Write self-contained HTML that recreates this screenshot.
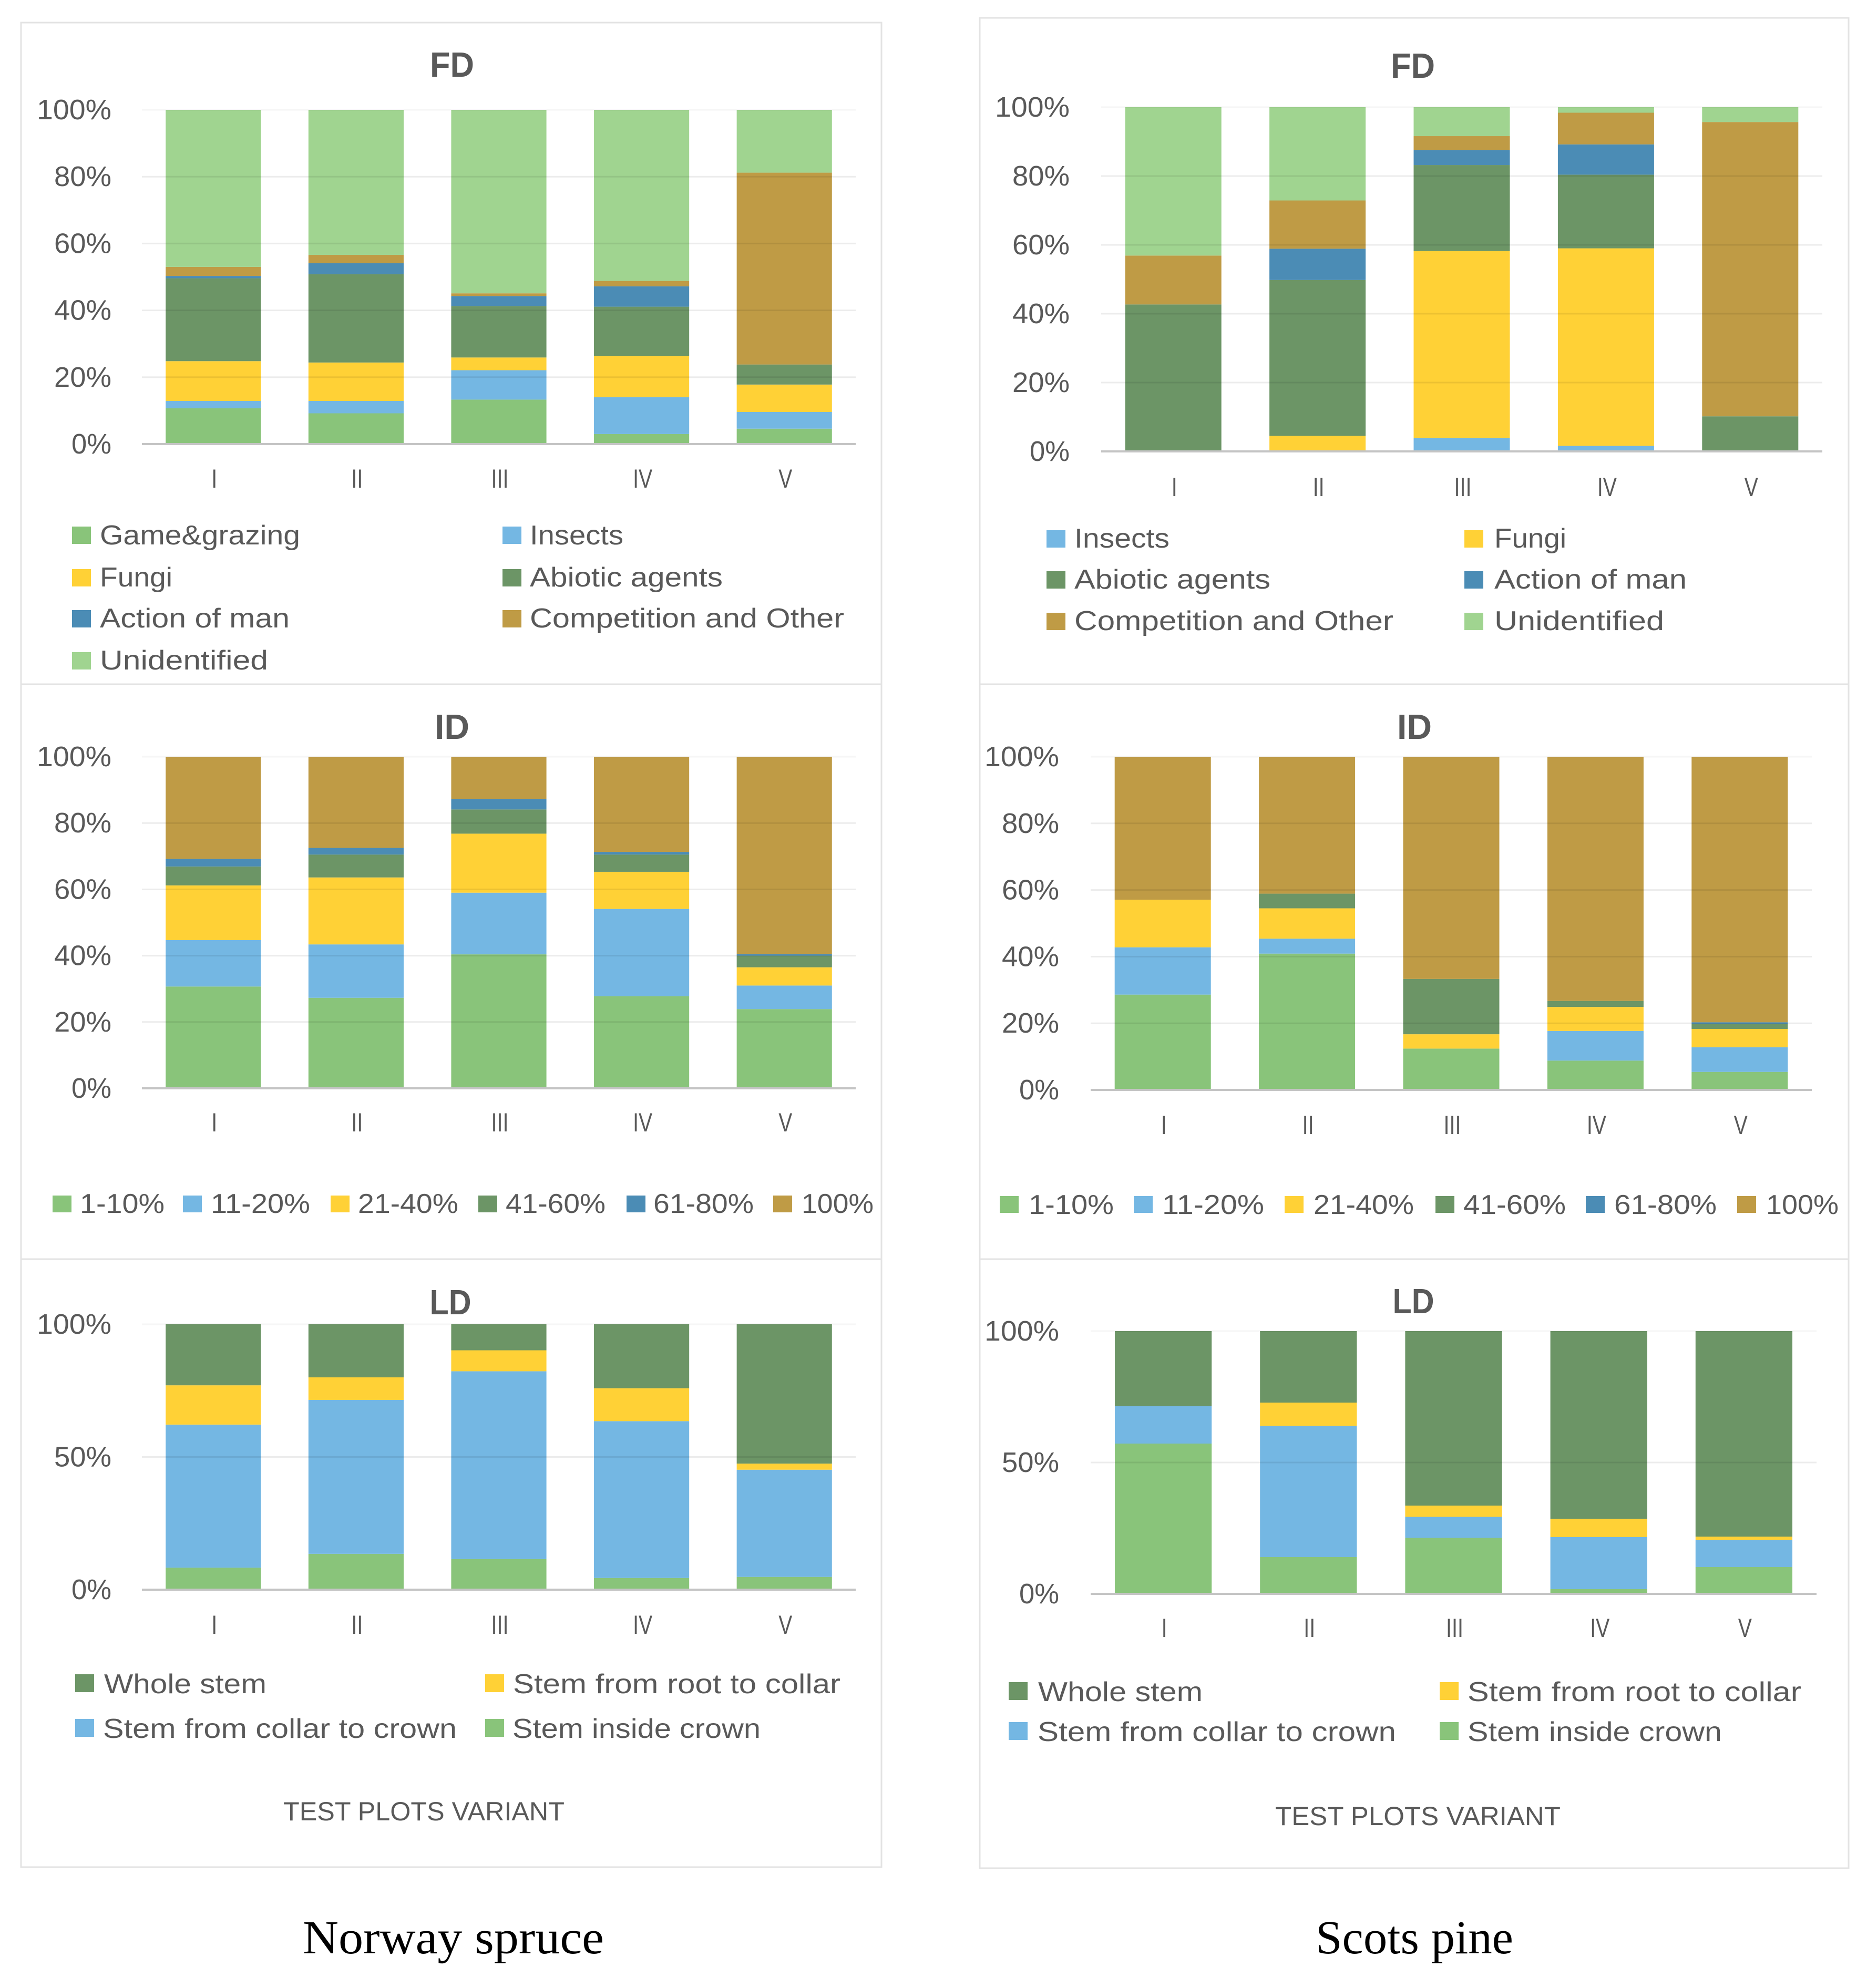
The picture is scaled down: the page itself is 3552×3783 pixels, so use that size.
<!DOCTYPE html>
<html lang="en">
<head>
<meta charset="utf-8">
<title>Damage causes by test plot variant</title>
<style>
html,body{margin:0;padding:0;background:#fff;}
svg{display:block;}
text{font-family:"Liberation Sans",sans-serif;fill:#595959;}
.leg{font-size:52px;}
.axt{font-size:50px;}
.cap{font-family:"Liberation Serif",serif;font-size:90px;fill:#000;}
.ttl{font-size:67px;font-weight:bold;text-anchor:middle;}
</style>
</head>
<body>
<svg id="figure" xmlns="http://www.w3.org/2000/svg" width="3552" height="3783" viewBox="0 0 3552 3783">
  <rect x="0" y="0" width="3552" height="3783" fill="#fff"/>

  <g fill="none" stroke="#e3e3e3" stroke-width="3">
    <rect x="40" y="43" width="1637" height="3510"/>
    <line x1="40" x2="1677" y1="1302" y2="1302"/>
    <line x1="40" x2="1677" y1="2396" y2="2396"/>
    <rect x="1864" y="34" width="1653" height="3521"/>
    <line x1="1864" x2="3517" y1="1302" y2="1302"/>
    <line x1="1864" x2="3517" y1="2396" y2="2396"/>
  </g>

  <g id="charts"></g>

  <!-- Titles -->
  <text class="ttl" x="860" y="146" textLength="84" lengthAdjust="spacingAndGlyphs">FD</text>
  <text class="ttl" x="2688" y="148" textLength="84" lengthAdjust="spacingAndGlyphs">FD</text>
  <text class="ttl" x="860" y="1406" textLength="66" lengthAdjust="spacingAndGlyphs">ID</text>
  <text class="ttl" x="2691" y="1406" textLength="66" lengthAdjust="spacingAndGlyphs">ID</text>
  <text class="ttl" x="857" y="2501" textLength="79" lengthAdjust="spacingAndGlyphs">LD</text>
  <text class="ttl" x="2689" y="2499" textLength="79" lengthAdjust="spacingAndGlyphs">LD</text>

  <!-- Spruce FD legend -->
  <g>
    <rect x="137" y="1002" width="36" height="33" fill="#89c47a"/>
    <text class="leg" x="190" y="1036" textLength="381" lengthAdjust="spacingAndGlyphs">Game&amp;grazing</text>
    <rect x="956" y="1002" width="36" height="33" fill="#74b7e3"/>
    <text class="leg" x="1008" y="1036" textLength="178" lengthAdjust="spacingAndGlyphs">Insects</text>
    <rect x="137" y="1083" width="36" height="33" fill="#ffd136"/>
    <text class="leg" x="190" y="1116" textLength="138" lengthAdjust="spacingAndGlyphs">Fungi</text>
    <rect x="956" y="1083" width="36" height="33" fill="#6c9566"/>
    <text class="leg" x="1008" y="1116" textLength="367" lengthAdjust="spacingAndGlyphs">Abiotic agents</text>
    <rect x="137" y="1161" width="36" height="33" fill="#4b8cb5"/>
    <text class="leg" x="190" y="1194" textLength="361" lengthAdjust="spacingAndGlyphs">Action of man</text>
    <rect x="956" y="1161" width="36" height="33" fill="#bf9b45"/>
    <text class="leg" x="1008" y="1194" textLength="598" lengthAdjust="spacingAndGlyphs">Competition and Other</text>
    <rect x="137" y="1241" width="36" height="33" fill="#a0d490"/>
    <text class="leg" x="190" y="1274" textLength="320" lengthAdjust="spacingAndGlyphs">Unidentified</text>
  </g>

  <!-- Pine FD legend -->
  <g>
    <rect x="1991" y="1009" width="36" height="33" fill="#74b7e3"/>
    <text class="leg" x="2044" y="1042" textLength="181" lengthAdjust="spacingAndGlyphs">Insects</text>
    <rect x="2786" y="1009" width="36" height="33" fill="#ffd136"/>
    <text class="leg" x="2843" y="1042" textLength="137" lengthAdjust="spacingAndGlyphs">Fungi</text>
    <rect x="1991" y="1087" width="36" height="33" fill="#6c9566"/>
    <text class="leg" x="2044" y="1120" textLength="373" lengthAdjust="spacingAndGlyphs">Abiotic agents</text>
    <rect x="2786" y="1087" width="36" height="33" fill="#4b8cb5"/>
    <text class="leg" x="2843" y="1120" textLength="366" lengthAdjust="spacingAndGlyphs">Action of man</text>
    <rect x="1991" y="1166" width="36" height="33" fill="#bf9b45"/>
    <text class="leg" x="2044" y="1199" textLength="607" lengthAdjust="spacingAndGlyphs">Competition and Other</text>
    <rect x="2786" y="1166" width="36" height="33" fill="#a0d490"/>
    <text class="leg" x="2843" y="1199" textLength="323" lengthAdjust="spacingAndGlyphs">Unidentified</text>
  </g>

  <!-- Spruce ID legend -->
  <g>
    <rect x="100" y="2275" width="36" height="32" fill="#89c47a"/>
    <text class="leg" x="152" y="2308" textLength="161" lengthAdjust="spacingAndGlyphs">1-10%</text>
    <rect x="348" y="2275" width="36" height="32" fill="#74b7e3"/>
    <text class="leg" x="401" y="2308" textLength="189" lengthAdjust="spacingAndGlyphs">11-20%</text>
    <rect x="629" y="2275" width="36" height="32" fill="#ffd136"/>
    <text class="leg" x="681" y="2308" textLength="191" lengthAdjust="spacingAndGlyphs">21-40%</text>
    <rect x="910" y="2275" width="36" height="32" fill="#6c9566"/>
    <text class="leg" x="962" y="2308" textLength="190" lengthAdjust="spacingAndGlyphs">41-60%</text>
    <rect x="1192" y="2275" width="36" height="32" fill="#4b8cb5"/>
    <text class="leg" x="1243" y="2308" textLength="191" lengthAdjust="spacingAndGlyphs">61-80%</text>
    <rect x="1471" y="2275" width="36" height="32" fill="#bf9b45"/>
    <text class="leg" x="1525" y="2308" textLength="137" lengthAdjust="spacingAndGlyphs">100%</text>
  </g>

  <!-- Pine ID legend -->
  <g>
    <rect x="1902" y="2276" width="36" height="32" fill="#89c47a"/>
    <text class="leg" x="1957" y="2310" textLength="162" lengthAdjust="spacingAndGlyphs">1-10%</text>
    <rect x="2157" y="2276" width="36" height="32" fill="#74b7e3"/>
    <text class="leg" x="2211" y="2310" textLength="194" lengthAdjust="spacingAndGlyphs">11-20%</text>
    <rect x="2444" y="2276" width="36" height="32" fill="#ffd136"/>
    <text class="leg" x="2499" y="2310" textLength="191" lengthAdjust="spacingAndGlyphs">21-40%</text>
    <rect x="2731" y="2276" width="36" height="32" fill="#6c9566"/>
    <text class="leg" x="2784" y="2310" textLength="195" lengthAdjust="spacingAndGlyphs">41-60%</text>
    <rect x="3017" y="2276" width="36" height="32" fill="#4b8cb5"/>
    <text class="leg" x="3071" y="2310" textLength="195" lengthAdjust="spacingAndGlyphs">61-80%</text>
    <rect x="3305" y="2276" width="36" height="32" fill="#bf9b45"/>
    <text class="leg" x="3360" y="2310" textLength="138" lengthAdjust="spacingAndGlyphs">100%</text>
  </g>

  <!-- Spruce LD legend -->
  <g>
    <rect x="143" y="3186" width="36" height="34" fill="#6c9566"/>
    <text class="leg" x="198" y="3222" textLength="309" lengthAdjust="spacingAndGlyphs">Whole stem</text>
    <rect x="923" y="3186" width="36" height="34" fill="#ffd136"/>
    <text class="leg" x="976" y="3222" textLength="623" lengthAdjust="spacingAndGlyphs">Stem from root to collar</text>
    <rect x="143" y="3271" width="36" height="34" fill="#74b7e3"/>
    <text class="leg" x="196" y="3307" textLength="673" lengthAdjust="spacingAndGlyphs">Stem from collar to crown</text>
    <rect x="923" y="3271" width="36" height="34" fill="#89c47a"/>
    <text class="leg" x="975" y="3307" textLength="472" lengthAdjust="spacingAndGlyphs">Stem inside crown</text>
  </g>

  <!-- Pine LD legend -->
  <g>
    <rect x="1919" y="3201" width="36" height="34" fill="#6c9566"/>
    <text class="leg" x="1975" y="3237" textLength="313" lengthAdjust="spacingAndGlyphs">Whole stem</text>
    <rect x="2739" y="3201" width="36" height="34" fill="#ffd136"/>
    <text class="leg" x="2792" y="3237" textLength="635" lengthAdjust="spacingAndGlyphs">Stem from root to collar</text>
    <rect x="1919" y="3277" width="36" height="34" fill="#74b7e3"/>
    <text class="leg" x="1974" y="3313" textLength="682" lengthAdjust="spacingAndGlyphs">Stem from collar to crown</text>
    <rect x="2739" y="3277" width="36" height="34" fill="#89c47a"/>
    <text class="leg" x="2792" y="3313" textLength="484" lengthAdjust="spacingAndGlyphs">Stem inside crown</text>
  </g>

  <!-- Axis titles and captions -->
  <text class="axt" x="539" y="3464" textLength="535" lengthAdjust="spacingAndGlyphs">TEST PLOTS VARIANT</text>
  <text class="axt" x="2426" y="3473" textLength="543" lengthAdjust="spacingAndGlyphs">TEST PLOTS VARIANT</text>
  <text class="cap" x="576" y="3717" textLength="573" lengthAdjust="spacingAndGlyphs">Norway spruce</text>
  <text class="cap" x="2503" y="3717" textLength="376" lengthAdjust="spacingAndGlyphs">Scots pine</text>
</svg>

<script>
// Shared axis data
const categories = ['I', 'II', 'III', 'IV', 'V'];
const tickValues20 = [0, 20, 40, 60, 80, 100];
const tickValues50 = [0, 50, 100];

// Norway spruce, FD
const spruceFdGame = [10.7, 9.2, 13.3, 3.0, 4.6];
const spruceFdInsects = [2.2, 3.7, 8.8, 11.0, 5.0];
const spruceFdFungi = [11.9, 11.5, 3.8, 12.4, 8.2];
const spruceFdAbiotic = [24.8, 26.4, 15.4, 14.7, 6.0];
const spruceFdAction = [0.7, 3.3, 3.0, 6.1, 0];
const spruceFdCompetition = [2.7, 2.5, 0.8, 1.6, 57.4];
const spruceFdUnidentified = [47.0, 43.4, 54.9, 51.2, 18.8];

// Scots pine, FD
const pineFdInsects = [0, 0, 3.9, 1.6, 0];
const pineFdFungi = [0, 4.5, 54.3, 57.4, 0];
const pineFdAbiotic = [42.7, 45.3, 25.0, 21.4, 10.2];
const pineFdAction = [0, 9.1, 4.4, 8.8, 0];
const pineFdCompetition = [14.2, 14.0, 4.0, 9.2, 85.5];
const pineFdUnidentified = [43.1, 27.1, 8.4, 1.6, 4.3];

// Norway spruce, ID
const spruceId1to10 = [30.7, 27.3, 40.4, 27.8, 23.9];
const spruceId11to20 = [14.0, 16.1, 18.6, 26.3, 7.1];
const spruceId21to40 = [16.5, 20.2, 17.8, 11.2, 5.5];
const spruceId41to60 = [5.7, 6.9, 7.3, 5.2, 3.5];
const spruceId61to80 = [2.3, 2.0, 3.2, 0.8, 0.5];
const spruceId100 = [30.8, 27.5, 12.7, 28.7, 59.5];

// Scots pine, ID
const pineId1to10 = [28.6, 40.9, 12.4, 8.8, 5.4];
const pineId11to20 = [14.2, 4.5, 0, 8.9, 7.4];
const pineId21to40 = [14.3, 9.1, 4.3, 7.2, 5.5];
const pineId41to60 = [0, 4.4, 16.6, 1.8, 1.5];
const pineId61to80 = [0, 0, 0, 0, 0.5];
const pineId100 = [42.9, 41.1, 66.7, 73.3, 79.7];

// Norway spruce, LD
const spruceLdInsideCrown = [8.3, 13.5, 11.5, 4.4, 4.8];
const spruceLdCollarToCrown = [53.9, 58.0, 70.8, 59.1, 40.4];
const spruceLdRootToCollar = [14.8, 8.5, 7.9, 12.4, 2.3];
const spruceLdWholeStem = [23.0, 20.0, 9.8, 24.1, 52.5];

// Scots pine, LD
const pineLdInsideCrown = [57.2, 14.0, 21.3, 1.8, 10.2];
const pineLdCollarToCrown = [14.2, 49.9, 8.0, 19.8, 10.4];
const pineLdRootToCollar = [0, 8.9, 4.3, 7.0, 1.2];
const pineLdWholeStem = [28.6, 27.2, 66.4, 71.4, 78.2];

const GREEN = '#89c47a', BLUE = '#74b7e3', YELLOW = '#ffd136',
      DARKGREEN = '#6c9566', STEEL = '#4b8cb5', BROWN = '#bf9b45', PALE = '#a0d490';
const NS = 'http://www.w3.org/2000/svg';
const root = document.getElementById('charts');

function drawChart(id, series, ticks, box) {
  const g = document.createElementNS(NS, 'g');
  
  
  root.appendChild(g);

  const yScale = v => box.y0 + (box.y100 - box.y0) * v / 100;
  const band = (box.x1 - box.x0) / categories.length;
  const xCenter = i => box.x0 + band * (i + 0.5);
  const barW = band * 0.667;

  // stacked bars
  categories.forEach((cat, i) => {
    let cum = 0;
    series.forEach(s => {
      const v = s.values[i];
      const top = yScale(cum + v), bottom = yScale(cum);
      cum += v;
      if (v <= 0) return;
      const r = document.createElementNS(NS, 'rect');
      
      
      r.setAttribute('x', xCenter(i) - barW / 2);
      r.setAttribute('y', top);
      r.setAttribute('width', barW);
      r.setAttribute('height', bottom - top);
      r.setAttribute('fill', s.color);
      g.appendChild(r);
    });

    const t = document.createElementNS(NS, 'text');
    
    
    t.setAttribute('x', xCenter(i) + 2);
    t.setAttribute('y', box.labelY);
    t.setAttribute('text-anchor', 'middle');
    t.setAttribute('font-size', '50');
    t.setAttribute('textLength', cat.replace(/V/g, '').length * 11 + (cat.includes('V') ? 26 : 0));
    t.setAttribute('lengthAdjust', 'spacingAndGlyphs');
    t.textContent = cat;
    g.appendChild(t);
  });

  // gridlines (translucent so they show faintly through the bars) and tick labels
  ticks.forEach(v => {
    const y = yScale(v);
    const l = document.createElementNS(NS, 'line');
    
    
    l.setAttribute('x1', box.x0);
    l.setAttribute('x2', box.x1);
    l.setAttribute('y1', y);
    l.setAttribute('y2', y);
    l.setAttribute('stroke', v === 0 ? '#c4c4c4' : (v === 100 ? 'rgba(0,0,0,.035)' : 'rgba(0,0,0,.075)'));
    l.setAttribute('stroke-width', v === 0 ? '4' : '3');
    g.appendChild(l);

    const label = v + '%';
    const t = document.createElementNS(NS, 'text');
    
    
    t.setAttribute('x', box.tickRight);
    t.setAttribute('y', y + 18);
    t.setAttribute('text-anchor', 'end');
    t.setAttribute('font-size', '54');
    t.setAttribute('textLength', 33 * (label.length - 1) + 43);
    t.setAttribute('lengthAdjust', 'spacingAndGlyphs');
    t.textContent = label;
    g.appendChild(t);
  });
}

drawChart('spruce-fd', [
  {key: 'game', color: GREEN, values: spruceFdGame},
  {key: 'insects', color: BLUE, values: spruceFdInsects},
  {key: 'fungi', color: YELLOW, values: spruceFdFungi},
  {key: 'abiotic', color: DARKGREEN, values: spruceFdAbiotic},
  {key: 'action', color: STEEL, values: spruceFdAction},
  {key: 'competition', color: BROWN, values: spruceFdCompetition},
  {key: 'unidentified', color: PALE, values: spruceFdUnidentified}
], tickValues20, {x0: 270, x1: 1628, y0: 845, y100: 209, tickRight: 212, labelY: 928});

drawChart('pine-fd', [
  {key: 'insects', color: BLUE, values: pineFdInsects},
  {key: 'fungi', color: YELLOW, values: pineFdFungi},
  {key: 'abiotic', color: DARKGREEN, values: pineFdAbiotic},
  {key: 'action', color: STEEL, values: pineFdAction},
  {key: 'competition', color: BROWN, values: pineFdCompetition},
  {key: 'unidentified', color: PALE, values: pineFdUnidentified}
], tickValues20, {x0: 2095, x1: 3467, y0: 859, y100: 204, tickRight: 2035, labelY: 944});

drawChart('spruce-id', [
  {key: '1-10', color: GREEN, values: spruceId1to10},
  {key: '11-20', color: BLUE, values: spruceId11to20},
  {key: '21-40', color: YELLOW, values: spruceId21to40},
  {key: '41-60', color: DARKGREEN, values: spruceId41to60},
  {key: '61-80', color: STEEL, values: spruceId61to80},
  {key: '100', color: BROWN, values: spruceId100}
], tickValues20, {x0: 270, x1: 1628, y0: 2071, y100: 1440, tickRight: 212, labelY: 2153});

drawChart('pine-id', [
  {key: '1-10', color: GREEN, values: pineId1to10},
  {key: '11-20', color: BLUE, values: pineId11to20},
  {key: '21-40', color: YELLOW, values: pineId21to40},
  {key: '41-60', color: DARKGREEN, values: pineId41to60},
  {key: '61-80', color: STEEL, values: pineId61to80},
  {key: '100', color: BROWN, values: pineId100}
], tickValues20, {x0: 2075, x1: 3447, y0: 2074, y100: 1440, tickRight: 2015, labelY: 2158});

drawChart('spruce-ld', [
  {key: 'inside-crown', color: GREEN, values: spruceLdInsideCrown},
  {key: 'collar-to-crown', color: BLUE, values: spruceLdCollarToCrown},
  {key: 'root-to-collar', color: YELLOW, values: spruceLdRootToCollar},
  {key: 'whole-stem', color: DARKGREEN, values: spruceLdWholeStem}
], tickValues50, {x0: 270, x1: 1628, y0: 3025, y100: 2520, tickRight: 212, labelY: 3109});

drawChart('pine-ld', [
  {key: 'inside-crown', color: GREEN, values: pineLdInsideCrown},
  {key: 'collar-to-crown', color: BLUE, values: pineLdCollarToCrown},
  {key: 'root-to-collar', color: YELLOW, values: pineLdRootToCollar},
  {key: 'whole-stem', color: DARKGREEN, values: pineLdWholeStem}
], tickValues50, {x0: 2075, x1: 3456, y0: 3033, y100: 2533, tickRight: 2015, labelY: 3115});
</script>
</body>
</html>
